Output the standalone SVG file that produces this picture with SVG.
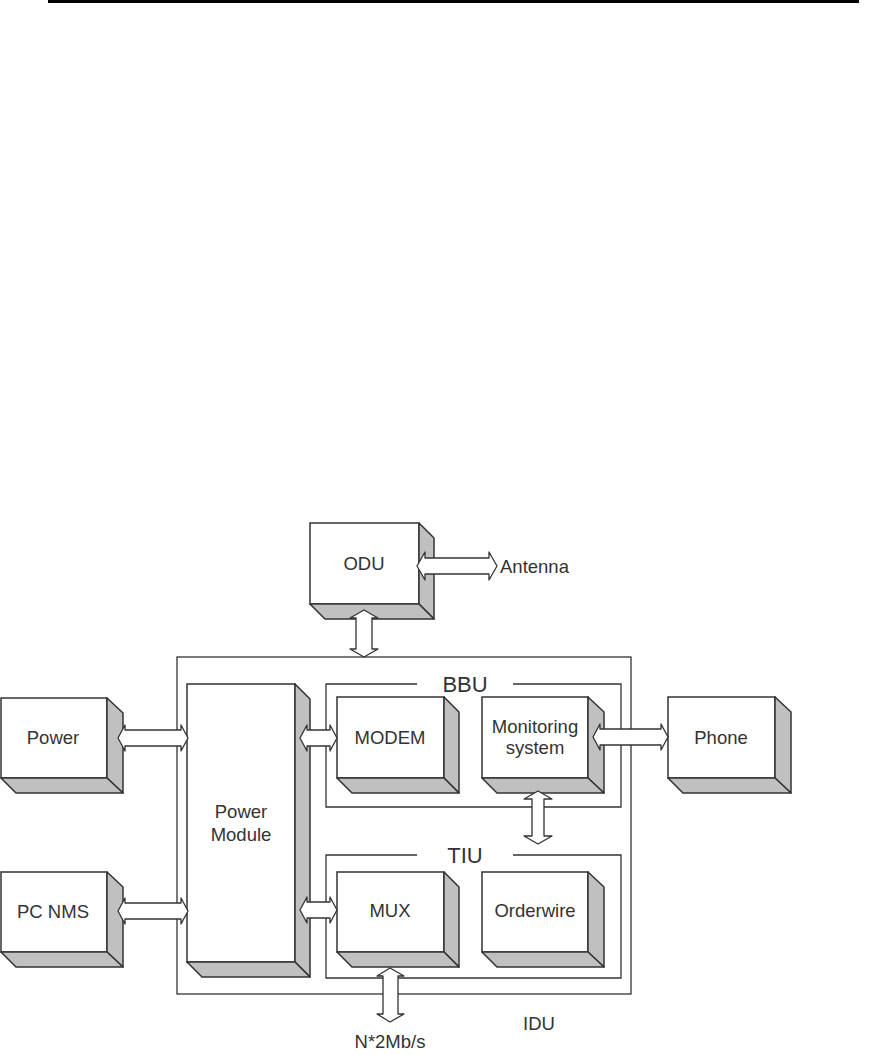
<svg xmlns="http://www.w3.org/2000/svg" width="876" height="1055" viewBox="0 0 876 1055">
<style>
.f{fill:#fff;stroke:#333;stroke-width:1.5}
.s{fill:#c0c0c0;stroke:#333;stroke-width:1.5;stroke-linejoin:round}
.c{fill:none;stroke:#333;stroke-width:1.3}
.a{fill:#fff;stroke:#333;stroke-width:1.3;stroke-linejoin:round}
text{font-family:"Liberation Sans",Arial,sans-serif;fill:#333;font-size:18.5px;text-anchor:middle}
.big{font-size:22px}
</style>
<rect x="48" y="0" width="811" height="3" fill="#000"/>
<g id="IDU">
<rect class="c" x="177" y="657" width="454" height="337"/>
<text x="539" y="1030">IDU</text>
</g>
<g id="BBU">
<path class="c" d="M417,684 H326 V807 H621 V684 H513"/>
<text class="big" x="465" y="692">BBU</text>
</g>
<g id="TIU">
<path class="c" d="M417,855 H326 V978 H621 V855 H513"/>
<text class="big" x="465" y="863">TIU</text>
</g>
<g id="ODU">
<rect class="f" x="310" y="523" width="109" height="81"/>
<polygon class="s" points="419,523 434,538 434,619 419,604"/>
<polygon class="s" points="310,604 419,604 434,619 325,619"/>
<text x="364" y="570">ODU</text>
</g>
<g id="Power">
<rect class="f" x="1" y="698" width="106" height="80"/>
<polygon class="s" points="107,698 123,713 123,793 107,778"/>
<polygon class="s" points="1,778 107,778 123,793 16,793"/>
<text x="53" y="744">Power</text>
</g>
<g id="PCNMS">
<rect class="f" x="1" y="872" width="106" height="80"/>
<polygon class="s" points="107,872 123,887 123,967 107,952"/>
<polygon class="s" points="1,952 107,952 123,967 16,967"/>
<text x="53" y="918">PC NMS</text>
</g>
<g id="PowerModule">
<rect class="f" x="187" y="684" width="108" height="278"/>
<polygon class="s" points="295,684 310,699 310,977 295,962"/>
<polygon class="s" points="187,962 295,962 310,977 202,977"/>
<text x="241" y="818">Power</text>
<text x="241" y="841">Module</text>
</g>
<g id="MODEM">
<rect class="f" x="337" y="697" width="107" height="81"/>
<polygon class="s" points="444,697 459,712 459,793 444,778"/>
<polygon class="s" points="337,778 444,778 459,793 352,793"/>
<text x="390" y="744">MODEM</text>
</g>
<g id="Monitoring">
<rect class="f" x="482" y="697" width="106" height="81"/>
<polygon class="s" points="588,697 604,712 604,793 588,778"/>
<polygon class="s" points="482,778 588,778 604,793 497,793"/>
<text x="535" y="733">Monitoring</text>
<text x="535" y="754">system</text>
</g>
<g id="Phone">
<rect class="f" x="668" y="697" width="107" height="81"/>
<polygon class="s" points="775,697 791,712 791,793 775,778"/>
<polygon class="s" points="668,778 775,778 791,793 683,793"/>
<text x="721" y="744">Phone</text>
</g>
<g id="MUX">
<rect class="f" x="337" y="872" width="107" height="80"/>
<polygon class="s" points="444,872 459,887 459,967 444,952"/>
<polygon class="s" points="337,952 444,952 459,967 352,967"/>
<text x="390" y="917">MUX</text>
</g>
<g id="Orderwire">
<rect class="f" x="482" y="872" width="106" height="80"/>
<polygon class="s" points="588,872 604,887 604,967 588,952"/>
<polygon class="s" points="482,952 588,952 604,967 497,967"/>
<text x="535" y="917">Orderwire</text>
</g>
<g id="connectors">
<path class="a" d="M417,566 L425,552 L425,558 L489,558 L489,552 L497,566 L489,580 L489,574 L425,574 L425,580 Z"/>
<path class="a" d="M364,610 L350,618 L356,618 L356,649 L350,649 L364,657 L378,649 L372,649 L372,618 L378,618 Z"/>
<path class="a" d="M118,738 L125,725 L125,730 L181,730 L181,725 L188,738 L181,751 L181,746 L125,746 L125,751 Z"/>
<path class="a" d="M118,911 L125,898 L125,903 L181,903 L181,898 L188,911 L181,924 L181,919 L125,919 L125,924 Z"/>
<path class="a" d="M300,738 L307,725 L307,730 L330,730 L330,725 L337,738 L330,751 L330,746 L307,746 L307,751 Z"/>
<path class="a" d="M300,910 L307,897 L307,902 L330,902 L330,897 L337,910 L330,923 L330,918 L307,918 L307,923 Z"/>
<path class="a" d="M593,737 L600,724 L600,729 L661,729 L661,724 L668,737 L661,750 L661,745 L600,745 L600,750 Z"/>
<path class="a" d="M538,791 L524,799 L532,799 L532,836 L524,836 L538,844 L552,836 L544,836 L544,799 L552,799 Z"/>
<path class="a" d="M390,968 L377,976 L383,976 L383,1014 L377,1014 L390,1022 L404,1014 L398,1014 L398,976 L404,976 Z"/>
</g>
<text x="390" y="1048">N*2Mb/s</text>
<text x="500" y="573" style="text-anchor:start">Antenna</text>
</svg>
